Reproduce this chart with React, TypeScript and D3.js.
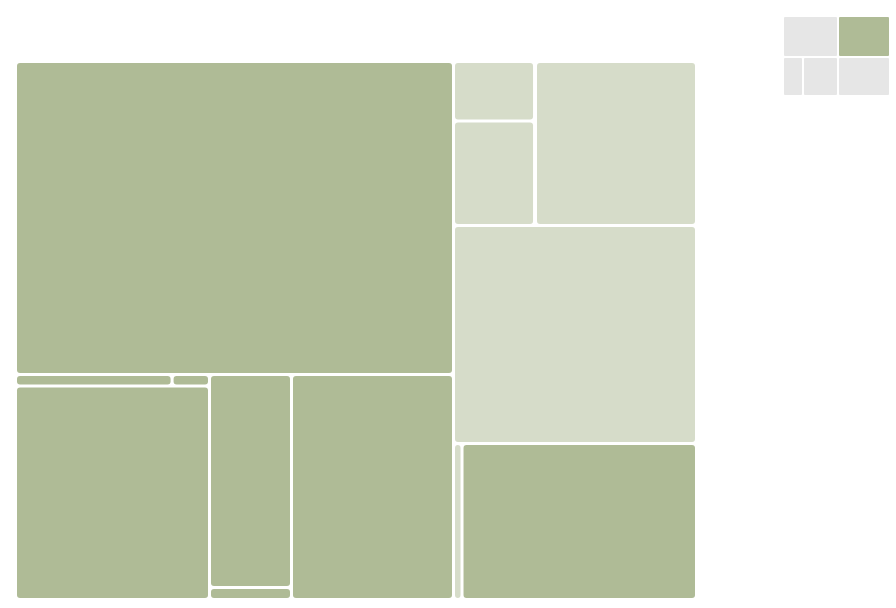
import React from 'react';
import * as d3 from 'd3';

// leaf paths describe the nesting that the slice/dice tiling follows
const leafPaths = [
    'root/L/A',
    'root/L/LB/LB1/strip/s1',
    'root/L/LB/LB1/strip/s2',
    'root/L/LB/LB1/big',
    'root/L/LB/LB2/top',
    'root/L/LB/LB2/bottom',
    'root/L/LB/LB3',
    'root/R/RT/RT1/top',
    'root/R/RT/RT1/bottom',
    'root/R/RT/thin',
    'root/R/RT/RT3',
    'root/R/RM',
    'root/R/RB/thin',
    'root/R/RB/big',
];
const leafValues = [137090, 1800, 430, 41420, 17470, 980, 36450, 4820, 8470, 160, 26400, 52970, 1330, 36580];
const leafKinds = ['a', 'a', 'a', 'a', 'a', 'a', 'a', 'b', 'b', 'b', 'b', 'b', 'b', 'a'];

const miniPaths = ['root/left/top', 'root/left/bottom/one', 'root/left/bottom/two', 'root/right/top', 'root/right/bottom'];
const miniValues = [2255, 780, 1365, 2132, 2028];
const miniKinds = ['c', 'c', 'c', 'a', 'c'];

const kindColors: Record<string, string> = { a: '#afbb96', b: '#d6dcc9', c: '#e6e6e6' };

function layout(paths: string[], values: number[], kinds: string[], w: number, h: number, pad: number) {
    const rows = paths.map((p, i) => ({ path: p, value: values[i], kind: kinds[i], order: i }));
    const root = d3.stratify<any>().path((d: any) => d.path)(rows);
    // keep the input order: each group sorts by its first leaf
    root.eachAfter((n: any) => {
        n.order = n.children ? d3.min(n.children, (c: any) => c.order) : (n.data ? n.data.order : 0);
    });
    root.sum((d: any) => (d && d.value) || 0);
    root.sort((a: any, b: any) => a.order - b.order);
    d3.treemap<any>().tile(d3.treemapSliceDice).size([w, h]).paddingInner(pad)(root);
    return root.leaves() as d3.HierarchyRectangularNode<any>[];
}

export default function App() {
    const leaves = layout(leafPaths, leafValues, leafKinds, 678, 535, 3);
    const mini = layout(miniPaths, miniValues, miniKinds, 105, 78, 2);

    return (
        <svg width={896} height={608} style={{ position: 'absolute', left: 0, top: 0, background: '#fff' }}>
            <g transform="translate(17,63)">
                {leaves.map((d, i) => (
                    <rect key={i}
                        x={d.x0} y={d.y0}
                        width={Math.max(0, d.x1 - d.x0)}
                        height={Math.max(0, d.y1 - d.y0)}
                        rx={3} ry={3}
                        fill={kindColors[d.data.kind]} />
                ))}
            </g>
            <g transform="translate(784,17)">
                {mini.map((d, i) => (
                    <rect key={i}
                        x={d.x0} y={d.y0}
                        width={Math.max(0, d.x1 - d.x0)}
                        height={Math.max(0, d.y1 - d.y0)}
                        rx={1} ry={1}
                        fill={kindColors[d.data.kind]} />
                ))}
            </g>
        </svg>
    );
}
